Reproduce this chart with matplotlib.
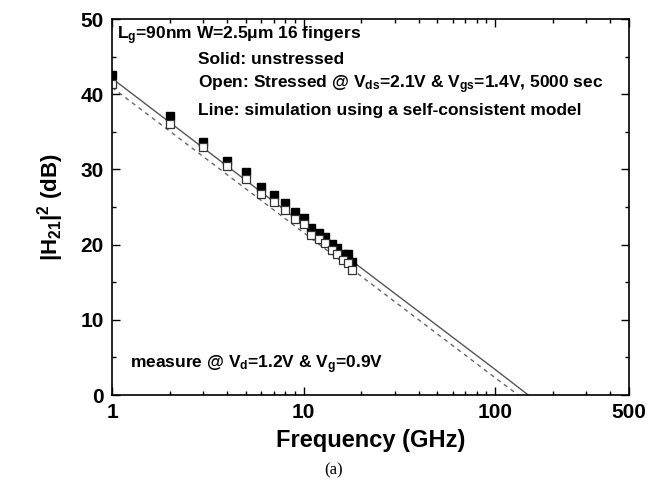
import numpy as np
import matplotlib
matplotlib.use("Agg")
import matplotlib.pyplot as plt
from matplotlib.ticker import FixedLocator, LogLocator, MultipleLocator, NullFormatter

# measured |H21|^2 (dB) vs frequency (GHz)
freq = [1, 2, 3, 4, 5, 6, 7, 8, 9, 10, 11, 12, 13, 14, 15, 16, 17, 18]
h21_fresh = [42.5, 37.1, 33.7, 31.1, 29.6, 27.7, 26.6, 25.5, 24.4, 23.5,
             22.2, 21.6, 21.0, 20.1, 19.6, 18.8, 18.75, 17.7]
h21_stress = [41.4, 36.1, 33.0, 30.4, 28.7, 26.7, 25.7, 24.6, 23.4, 22.7,
              21.3, 20.7, 20.2, 19.3, 18.75, 17.9, 17.6, 16.6]

# simulation (self-consistent model)
sim_freq = [1, 10, 100, 149]
sim_fresh = [42.1, 22.7, 3.4, 0.0]
sim_freq_st = [1, 10, 100, 132]
sim_stress = [40.9, 21.6, 2.3, 0.0]

xticks = [1, 10, 100, 500]
xticklabels = ["1", "10", "100", "500"]

plt.rcParams["font.family"] = ["Liberation Sans", "DejaVu Sans"]
plt.rcParams["font.weight"] = "bold"
plt.rcParams["mathtext.fontset"] = "custom"
plt.rcParams["mathtext.rm"] = "Liberation Sans:bold"
plt.rcParams["mathtext.it"] = "Liberation Sans:bold"
plt.rcParams["mathtext.bf"] = "Liberation Sans:bold"

fig = plt.figure(figsize=(6.68, 4.95), dpi=100)
ax = fig.add_axes([0.1677, 0.202, 0.7739, 0.7596])

ax.plot(sim_freq, sim_fresh, color="#555555", lw=1.0)
ax.plot(sim_freq_st, sim_stress, color="#666666", lw=1.0, ls=(0, (3, 3)))
ax.plot(freq, h21_fresh, ls="none", marker="s", ms=5.8, mfc="black", mec="black", mew=1.0)
ax.plot(freq, h21_stress, ls="none", marker="s", ms=5.8, mfc="white", mec="#333333", mew=0.9)

ax.set_xscale("log")
ax.set_xlim(1, 500)
ax.set_ylim(0, 50)
ax.xaxis.set_major_locator(FixedLocator(xticks))
ax.set_xticklabels(xticklabels)
ax.xaxis.set_minor_locator(LogLocator(base=10, subs=np.arange(2, 10)))
ax.xaxis.set_minor_formatter(NullFormatter())
ax.yaxis.set_major_locator(MultipleLocator(10))
ax.yaxis.set_minor_locator(MultipleLocator(5))

ax.tick_params(which="both", direction="in", top=True, right=True, width=1.0)
ax.tick_params(which="major", length=6, labelsize=15, pad=6)
ax.tick_params(which="minor", length=3)
for lab in ax.get_xticklabels() + ax.get_yticklabels():
    lab.set_fontweight("bold")
for s in ax.spines.values():
    s.set_linewidth(1.2)

ax.set_xlabel("Frequency (GHz)", fontsize=17, fontweight="bold", labelpad=5)
ax.set_ylabel(r"$|\mathregular{H_{21}}|^2$ (dB)", fontsize=16, fontweight="bold", labelpad=10)

# annotations inside the axes
fs = 12.5
kw = dict(transform=ax.transAxes, fontsize=fs, fontweight="bold", va="center", ha="left")
ax.text(0.01, 0.955, r"L$_g$=90nm W=2.5$\mu$m 16 fingers", **kw)
ax.text(0.166, 0.893, "Solid: unstressed", **kw)
ax.text(0.166, 0.824, r"Open: Stressed @ V$_{ds}$=2.1V & V$_{gs}$=1.4V, 5000 sec", **kw)
ax.text(0.166, 0.756, "Line: simulation using a self-consistent model", **kw)
ax.text(0.035, 0.08, r"measure @ V$_d$=1.2V & V$_g$=0.9V", **kw)

fig.text(0.5, 0.05, "(a)", fontsize=12, fontweight="normal", family="Liberation Serif",
         ha="center", va="center")

fig.savefig("out.png", dpi=100)
